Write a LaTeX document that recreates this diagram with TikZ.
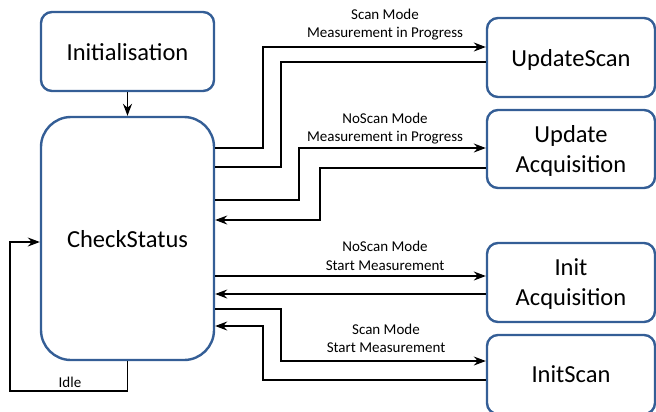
\documentclass[tikz,border=0pt]{standalone}
\usepackage{fontspec}
\setmainfont{Carlito}
\usetikzlibrary{arrows.meta}
\definecolor{boxblue}{RGB}{52,94,150}
\begin{document}
\begin{tikzpicture}[x=1bp,y=-1bp,
  box/.style={draw=boxblue,line width=2.4bp,rounded corners=11bp,fill=white,
    align=center,font=\fontsize{24.5bp}{30bp}\selectfont,inner sep=0pt,text depth=0pt},
  conn/.style={draw=black,line width=1.1bp},
  arr/.style={conn,-{Stealth[length=12bp,width=9bp,inset=4bp]}},
  lbl/.style={align=center,font=\fontsize{15bp}{18.5bp}\selectfont,inner sep=0pt}]
\useasboundingbox (0,0) rectangle (656,411);
\clip (0,0) rectangle (656,411);
% nodes
\node[box,minimum width=173bp,minimum height=79bp] (init) at (127.5,51.5) {Initialisation};
\node[box,minimum width=173bp,minimum height=243bp,rounded corners=30bp] (check) at (127.5,238.5) {CheckStatus};
\node[box,minimum width=168bp,minimum height=79bp] (us) at (571,57.5) {UpdateScan};
\node[box,minimum width=168bp,minimum height=78bp] (ua) at (571,149) {Update\\Acquisition};
\node[box,minimum width=168bp,minimum height=79bp] (ia) at (571,282.5) {Init\\Acquisition};
\node[box,minimum width=168bp,minimum height=79bp] (is) at (571,374.5) {InitScan};
% labels
\node[lbl] (l1) at (385,24.5) {Scan Mode\\Measurement in Progress};
\node[lbl] (l2) at (385,128.5) {NoScan Mode\\Measurement in Progress};
\node[lbl] (l3) at (385,256) {NoScan Mode\\Start Measurement};
\node[lbl] (l4) at (386,338.5) {Scan Mode\\Start Measurement};
\node[lbl] (idle) at (70,382) {Idle};
% connectors
\draw[arr] (init.south) -- (check.north);
\draw[arr] (check.east |- 0,148) -- (263,148) -- (263,47) -- (us.west |- 0,47);
\draw[conn] (us.west |- 0,62) -- (281,62) -- (281,167) -- (check.east |- 0,167);
\draw[arr] (check.east |- 0,200) -- (299,200) -- (299,148) -- (ua.west |- 0,148);
\draw[arr] (ua.west |- 0,168) -- (320,168) -- (320,220) -- (check.east |- 0,220);
\draw[arr] (check.east |- 0,276) -- (ia.west |- 0,276);
\draw[arr] (ia.west |- 0,294) -- (check.east |- 0,294);
\draw[arr] (check.east |- 0,309) -- (281,309) -- (281,361) -- (is.west |- 0,361);
\draw[arr] (is.west |- 0,380) -- (263,380) -- (263,326) -- (check.east |- 0,326);
\draw[arr] (check.south) -- (127.5,391) -- (10,391) -- (10,242) -- (check.west |- 0,242);
\end{tikzpicture}
\end{document}
